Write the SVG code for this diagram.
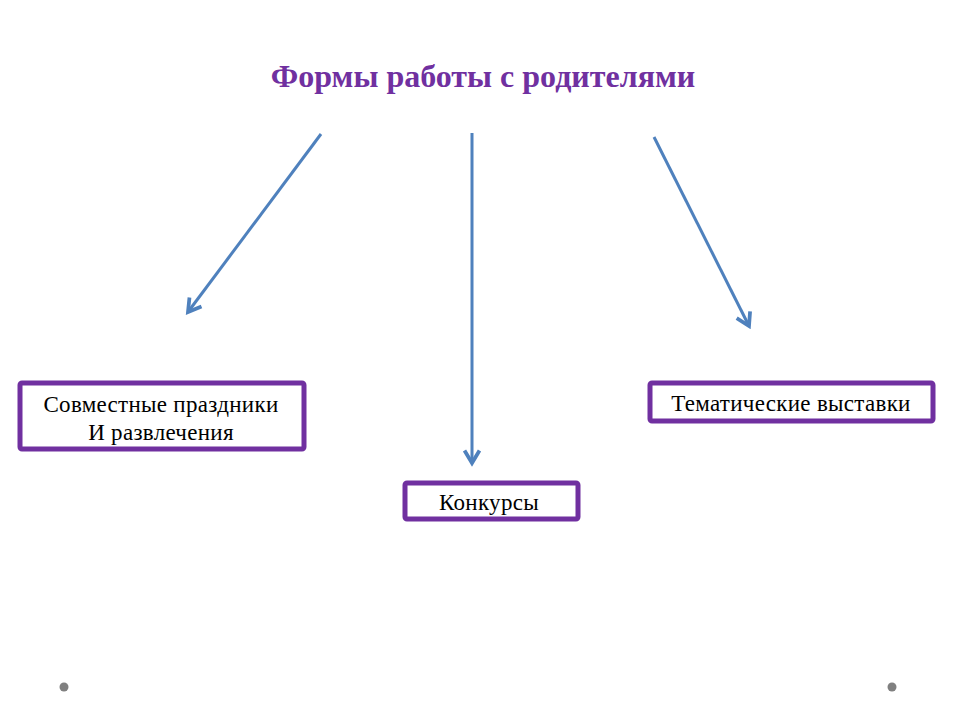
<svg xmlns="http://www.w3.org/2000/svg" width="960" height="720" viewBox="0 0 960 720">
<style>
.box{fill:#fff;stroke:#7030A0;stroke-width:5}
.lbl{font-family:"Liberation Serif","Times New Roman",serif;font-size:23px;letter-spacing:0.3px;fill:#000;text-anchor:middle}
.conn{stroke:#4F81BD;stroke-width:3;fill:none;marker-end:url(#arr)}
.dot{fill:#808080}
</style>
<defs>
<marker id="arr" markerUnits="userSpaceOnUse" markerWidth="20" markerHeight="20" viewBox="-12 -8 14 16" refX="0" refY="0" orient="auto">
<path d="M-10,-6 L0,0 L-10,6" fill="none" stroke="#4F81BD" stroke-width="3"/>
</marker>
</defs>
<rect width="960" height="720" fill="#fff"/>
<g id="title">
<text x="483" y="87" font-family="Liberation Serif,'Times New Roman',serif" font-size="32" font-weight="bold" fill="#7030A0" text-anchor="middle">Формы работы с родителями</text>
</g>
<g id="connectors">
<line class="conn" x1="321" y1="134" x2="188" y2="312"/>
<line class="conn" x1="472" y1="133" x2="472" y2="463"/>
<line class="conn" x1="654" y1="137" x2="749" y2="326"/>
</g>
<g id="node-left">
<rect class="box" x="20" y="383" width="284" height="66" rx="2"/>
<text class="lbl" x="161" y="412">Совместные праздники</text>
<text class="lbl" x="161" y="440">И развлечения</text>
</g>
<g id="node-middle">
<rect class="box" x="405" y="483" width="173" height="36" rx="2"/>
<text class="lbl" x="489" y="510">Конкурсы</text>
</g>
<g id="node-right">
<rect class="box" x="650" y="383" width="283" height="38" rx="2"/>
<text class="lbl" x="791" y="411">Тематические выставки</text>
</g>
<g id="dots">
<circle class="dot" cx="64" cy="687" r="4.5"/>
<circle class="dot" cx="892" cy="687" r="4.5"/>
</g>
</svg>
